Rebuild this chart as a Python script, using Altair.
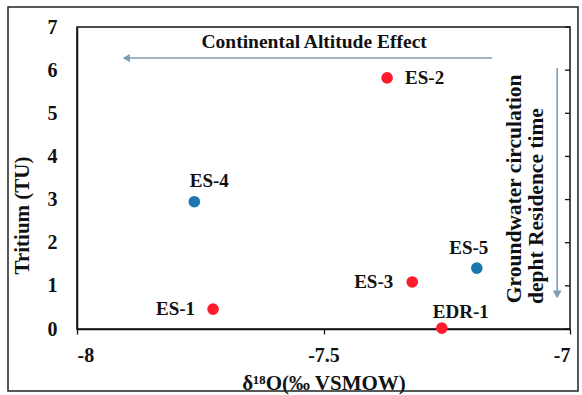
import altair as alt
import pandas as pd

# Data
labels = ["ES-1", "ES-2", "ES-3", "ES-4", "ES-5", "EDR-1"]
d18o = [-7.724, -7.371, -7.320, -7.762, -7.189, -7.260]
tritium = [0.46, 5.82, 1.09, 2.95, 1.41, 0.02]
groups = ["red", "red", "red", "blue", "blue", "red"]

x_ticks = [-8, -7.5, -7]
y_ticks = [0, 1, 2, 3, 4, 5, 6, 7]

# annotation arrows (data coords)
h_arrow_x = [-7.158, -7.900]
h_arrow_y = 6.28
v_arrow_x = -7.026
v_arrow_y = [6.05, 0.80]

df = pd.DataFrame({"label": labels, "x": d18o, "y": tritium, "g": groups})

FONT = "Liberation Serif"
RED = "#ff1a2c"
BLUE = "#1b78ad"
ARROW = "#7f9db3"
INK = "#111111"

xs = alt.Scale(domain=[-8, -7], nice=False, zero=False)
ys = alt.Scale(domain=[0, 7], nice=False, zero=False)

pts = alt.Chart(df).mark_circle(size=135, opacity=1).encode(
    x=alt.X("x:Q", scale=xs, axis=alt.Axis(values=x_ticks, title="δ¹⁸O(‰ VSMOW)",
                                          labelExpr="toString(datum.value)",
                                          labelPadding=11, tickSize=5,
                                          titleY=54, titleBaseline="middle")),
    y=alt.Y("y:Q", scale=ys, axis=alt.Axis(values=y_ticks, title="Tritium (TU)",
                                          labelExpr="toString(datum.value)",
                                          ticks=False, labelPadding=20,
                                          titleX=-55, titleY=188, titleAngle=270,
                                          titleBaseline="middle", titleAlign="center")),
    color=alt.Color("g:N", scale=alt.Scale(domain=["red", "blue"], range=[RED, BLUE]), legend=None),
)

offsets = {
    "ES-1": (-18, 0, "right"),
    "ES-2": (18, 0, "left"),
    "ES-3": (-19, 0, "right"),
    "ES-4": (15, -21, "center"),
    "ES-5": (-8, -20, "center"),
    "EDR-1": (19, -16, "center"),
}

text_layers = []
for lab, (dx, dy, al) in offsets.items():
    text_layers.append(
        alt.Chart(df).transform_filter(alt.datum.label == lab).mark_text(
            font=FONT, fontWeight="bold", fontSize=19, dx=dx, dy=dy, align=al, baseline="middle", color=INK
        ).encode(x=alt.X("x:Q", scale=xs), y=alt.Y("y:Q", scale=ys), text="label:N")
    )

harrow_df = pd.DataFrame({"x": [h_arrow_x[0]], "x2": [h_arrow_x[1]], "y": [h_arrow_y]})
hline = alt.Chart(harrow_df).mark_rule(color=ARROW, strokeWidth=1.6).encode(
    x=alt.X("x:Q", scale=xs), x2="x2:Q", y=alt.Y("y:Q", scale=ys))
hhead = alt.Chart(harrow_df).mark_point(shape="triangle-left", filled=True, color=ARROW, size=70, opacity=1).encode(
    x=alt.X("x2:Q", scale=xs), y=alt.Y("y:Q", scale=ys))

varrow_df = pd.DataFrame({"x": [v_arrow_x], "y": [v_arrow_y[0]], "y2": [v_arrow_y[1]]})
vline = alt.Chart(varrow_df).mark_rule(color=ARROW, strokeWidth=1.6).encode(
    x=alt.X("x:Q", scale=xs), y=alt.Y("y:Q", scale=ys), y2="y2:Q")
vhead = alt.Chart(varrow_df).mark_point(shape="triangle-down", filled=True, color=ARROW, size=80, opacity=1).encode(
    x=alt.X("x:Q", scale=xs), y=alt.Y("y2:Q", scale=ys))

ann_df = pd.DataFrame({
    "x": [-7.519, -7.112, -7.067],
    "y": [6.65, 3.25, 2.85],
    "t": ["Continental Altitude Effect", "Groundwater circulation", "depht Residence time"],
})
ann_h = alt.Chart(ann_df.iloc[[0]]).mark_text(font=FONT, fontWeight="bold", fontSize=19.5, color=INK).encode(
    x=alt.X("x:Q", scale=xs), y=alt.Y("y:Q", scale=ys), text="t:N")
ann_v = alt.Chart(ann_df.iloc[[1, 2]]).mark_text(font=FONT, fontWeight="bold", fontSize=21.5, angle=270,
                                                 baseline="middle", color=INK).encode(
    x=alt.X("x:Q", scale=xs), y=alt.Y("y:Q", scale=ys), text="t:N")

# right-side mirror ticks
rt = alt.Chart(pd.DataFrame({"t": y_ticks})).mark_rule(color=INK, strokeWidth=1.3).encode(
    y=alt.Y("t:Q", scale=ys), x=alt.value(488), x2=alt.value(493))

frame = alt.Chart(pd.DataFrame({"k": [0]})).mark_rect(fill=None, stroke="#222", strokeWidth=1.5).encode(
    x=alt.value(-69), x2=alt.value(501), y=alt.value(-20), y2=alt.value(364))

chart = alt.layer(frame, rt, hline, hhead, vline, vhead, ann_h, ann_v, pts, *text_layers).properties(
    width=493, height=302,
    autosize=alt.AutoSizeParams(type="none"),
    padding={"left": 77, "top": 27, "right": 12, "bottom": 66},
).configure_view(stroke=INK, strokeWidth=1.5).configure_axis(
    grid=False, domainColor=INK, domainWidth=1.5, tickColor=INK, tickWidth=1.3,
    labelFont=FONT, labelFontWeight="bold", labelFontSize=20, labelColor=INK,
    titleFont=FONT, titleFontWeight="bold", titleFontSize=21, titleColor=INK,
)

chart.save("out.html", embed_options={"renderer": "svg", "actions": False})
